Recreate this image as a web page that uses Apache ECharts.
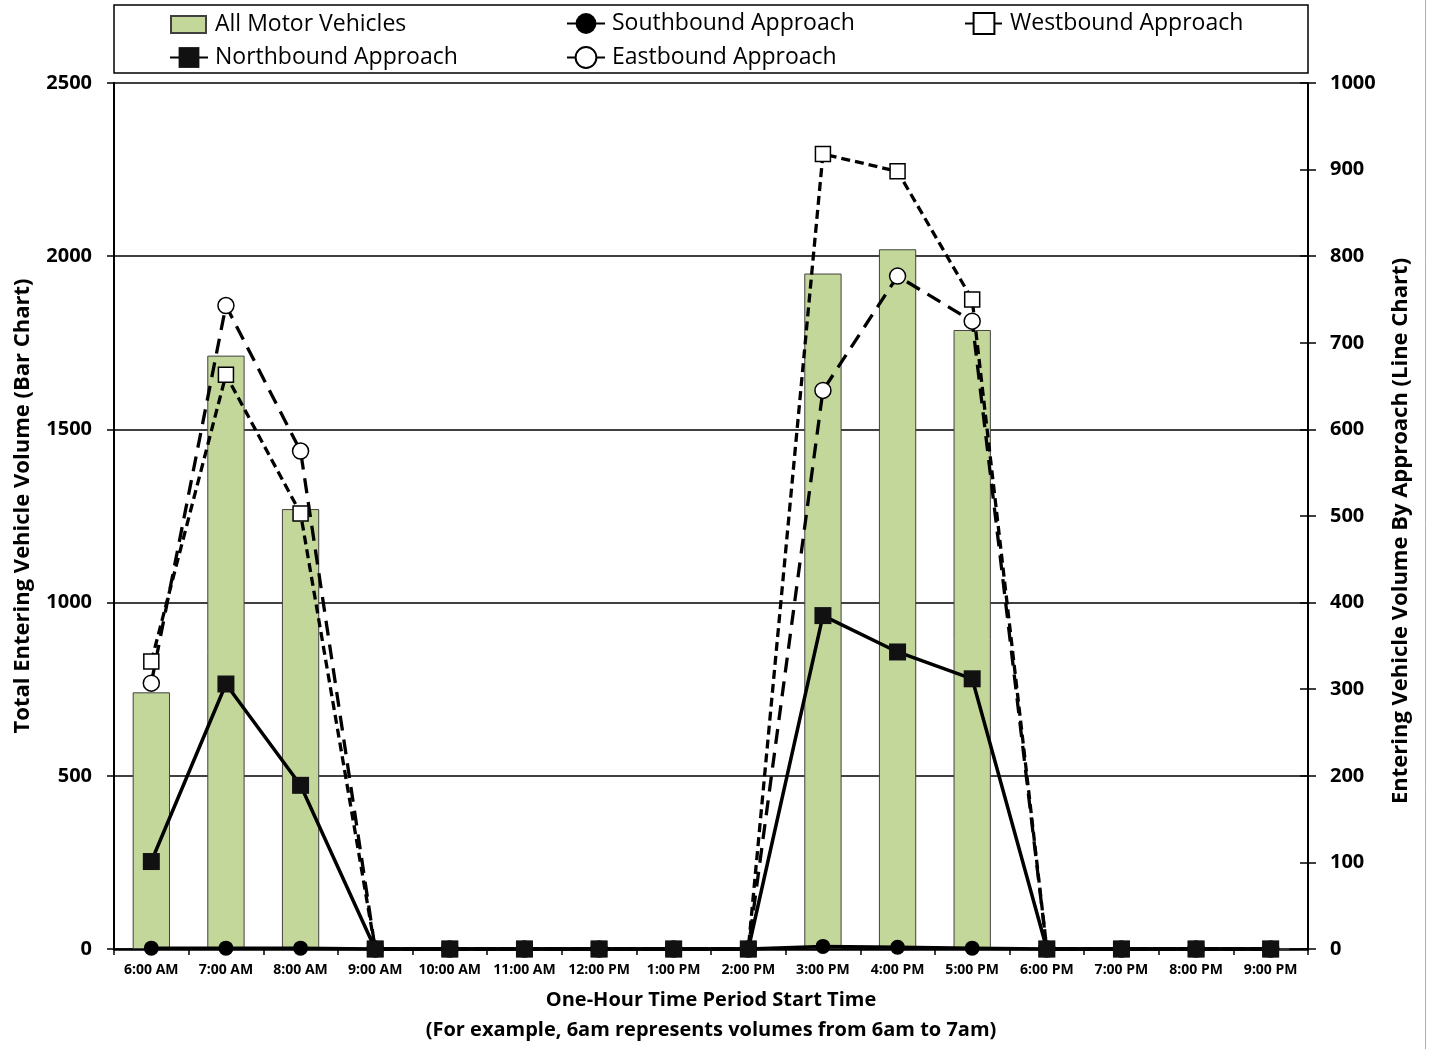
<!DOCTYPE html>
<html>
<head>
<meta charset="utf-8">
<title>Entering Vehicle Volume</title>
<script src="https://cdn.jsdelivr.net/npm/echarts@6/dist/echarts.min.js"></script>
<style>
  html, body { margin: 0; padding: 0; background: #ffffff; }
  #chart { width: 1432px; height: 1049px; }
</style>
</head>
<body>
<div id="chart"></div>
<script>
// One-hour periods, by start time
const categories = ['6:00 AM', '7:00 AM', '8:00 AM', '9:00 AM', '10:00 AM', '11:00 AM', '12:00 PM', '1:00 PM',
  '2:00 PM', '3:00 PM', '4:00 PM', '5:00 PM', '6:00 PM', '7:00 PM', '8:00 PM', '9:00 PM'];

// Total entering volume (left axis, bars)
const allMotorVehicles = [741, 1713, 1270, 0, 0, 0, 0, 0, 0, 1950, 2020, 1787, 0, 0, 0, 0];

// Volume by approach (right axis, lines)
const northbound = [101, 306, 189, 0, 0, 0, 0, 0, 0, 385, 343, 312, 0, 0, 0, 0];
const southbound = [1, 1, 1, 0, 0, 0, 0, 0, 0, 3, 2, 1, 0, 0, 0, 0];
const westbound  = [332, 663, 503, 0, 0, 0, 0, 0, 0, 918, 898, 750, 0, 0, 0, 0];
const eastbound  = [307, 743, 575, 0, 0, 0, 0, 0, 0, 645, 777, 725, 0, 0, 0, 0];

const FONT = '"Open Sans", "Noto Sans", sans-serif';
const INK = '#000000';

const chart = echarts.init(document.getElementById('chart'), null, { renderer: 'canvas' });

function legendAt(name, left, top, extra) {
  return Object.assign({
    data: [name],
    left: left,
    top: top,
    orient: 'horizontal',
    padding: 0,
    itemWidth: 38,
    itemHeight: 26,
    selectedMode: false,
    textStyle: { fontFamily: FONT, fontSize: 23, color: INK, padding: [0, 0, 0, 2] }
  }, extra || {});
}

const plainNumber = v => String(v);

const option = {
  backgroundColor: '#ffffff',
  animation: false,
  textStyle: { fontFamily: FONT },
  graphic: [
    {
      type: 'rect',
      shape: { x: 114, y: 5, width: 1194, height: 68 },
      style: { fill: 'none', stroke: INK, lineWidth: 1.5 },
      z: 0
    },
    {
      type: 'line',
      shape: { x1: 1425.5, y1: 0, x2: 1425.5, y2: 1049 },
      style: { stroke: '#b0b0b0', lineWidth: 1 }
    }
  ],
  legend: [
    legendAt('All Motor Vehicles', 170, 13, { icon: 'rect', itemHeight: 17, itemWidth: 35, textStyle: { fontFamily: FONT, fontSize: 23, color: INK, padding: [0, 0, 0, 4] } }),
    legendAt('Southbound Approach', 566, 12),
    legendAt('Westbound Approach', 964, 12),
    legendAt('Northbound Approach', 169, 46),
    legendAt('Eastbound Approach', 566, 46)
  ],
  grid: { left: 114, right: 124, top: 83, bottom: 100, containLabel: false, outerBoundsMode: 'none' },
  xAxis: {
    type: 'category',
    data: categories,
    boundaryGap: true,
    name: 'One-Hour Time Period Start Time\n(For example, 6am represents volumes from 6am to 7am)',
    nameLocation: 'middle',
    nameGap: 36,
    nameTextStyle: { fontFamily: FONT, fontSize: 20, fontWeight: 'bold', color: INK, lineHeight: 30 },
    axisLine: { show: true, lineStyle: { color: INK, width: 2.5 } },
    axisTick: { show: true, alignWithLabel: false, length: 6, lineStyle: { color: INK, width: 1.5 } },
    axisLabel: { fontFamily: FONT, fontSize: 14, fontWeight: 'bold', color: INK, margin: 14, interval: 0 },
    splitLine: { show: false }
  },
  yAxis: [
    {
      type: 'value',
      position: 'left',
      min: 0,
      max: 2500,
      interval: 500,
      name: 'Total Entering Vehicle Volume (Bar Chart)',
      nameLocation: 'middle',
      nameGap: 80,
      nameRotate: 90,
      nameTextStyle: { fontFamily: FONT, fontSize: 22, fontWeight: 'bold', color: INK, padding: [0, 0, 0, 20] },
      axisLine: { show: true, lineStyle: { color: INK, width: 2 } },
      axisTick: { show: true, inside: false, length: 7, lineStyle: { color: INK, width: 1.5 } },
      axisLabel: { fontFamily: FONT, fontSize: 20, fontWeight: 'bold', color: INK, margin: 22, formatter: plainNumber },
      splitLine: { show: true, lineStyle: { color: INK, width: 1.5 } }
    },
    {
      type: 'value',
      position: 'right',
      min: 0,
      max: 1000,
      interval: 100,
      name: 'Entering Vehicle Volume By Approach (Line Chart)',
      nameLocation: 'middle',
      nameGap: 82,
      nameRotate: 90,
      nameTextStyle: { fontFamily: FONT, fontSize: 22, fontWeight: 'bold', color: INK, padding: [0, 30, 0, 0] },
      axisLine: { show: true, lineStyle: { color: INK, width: 2 } },
      axisTick: { show: true, inside: false, length: 8, lineStyle: { color: INK, width: 1.5 } },
      axisLabel: { fontFamily: FONT, fontSize: 20, fontWeight: 'bold', color: INK, margin: 22, formatter: plainNumber },
      splitLine: { show: false }
    },
    {
      // inner half of the right-hand tick marks
      type: 'value',
      position: 'right',
      min: 0,
      max: 1000,
      interval: 100,
      axisLine: { show: false },
      axisTick: { show: true, inside: true, length: 8, lineStyle: { color: INK, width: 1.5 } },
      axisLabel: { show: false },
      splitLine: { show: false }
    }
  ],
  series: [
    {
      name: 'All Motor Vehicles',
      type: 'bar',
      yAxisIndex: 0,
      data: allMotorVehicles,
      barWidth: '50%',
      itemStyle: { color: '#c4d79b', borderColor: '#404040', borderWidth: 1 },
      z: 1
    },
    {
      name: 'Southbound Approach',
      type: 'line',
      yAxisIndex: 1,
      data: southbound,
      symbol: 'circle',
      symbolSize: 15,
      lineStyle: { color: INK, width: 3.5, type: 'solid' },
      itemStyle: { color: INK, borderColor: INK, borderWidth: 0 },
      z: 3
    },
    {
      name: 'Westbound Approach',
      type: 'line',
      yAxisIndex: 1,
      data: westbound,
      symbol: 'rect',
      symbolSize: 15,
      lineStyle: { color: INK, width: 3.3, type: [9, 5] },
      itemStyle: { color: '#ffffff', borderColor: INK, borderWidth: 1.5 },
      z: 4
    },
    {
      name: 'Eastbound Approach',
      type: 'line',
      yAxisIndex: 1,
      data: eastbound,
      symbol: 'circle',
      symbolSize: 16,
      lineStyle: { color: INK, width: 3.3, type: [15, 9] },
      itemStyle: { color: '#ffffff', borderColor: INK, borderWidth: 1.5 },
      z: 4
    },
    {
      name: 'Northbound Approach',
      type: 'line',
      yAxisIndex: 1,
      data: northbound,
      symbol: 'rect',
      symbolSize: 17,
      lineStyle: { color: INK, width: 3.5, type: 'solid' },
      itemStyle: { color: '#111111', borderColor: INK, borderWidth: 0 },
      z: 5
    }
  ]
};

chart.setOption(option);
</script>
</body>
</html>
